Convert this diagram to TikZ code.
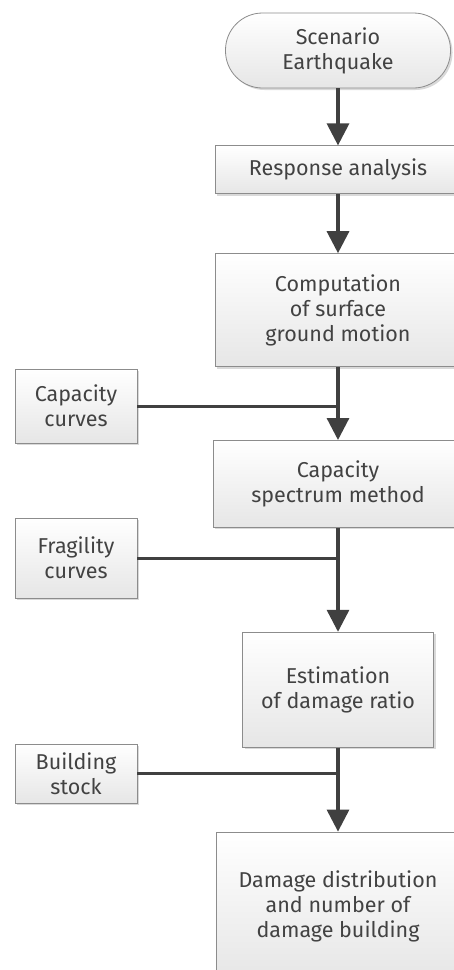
\documentclass[tikz,border=0pt]{standalone}
\usepackage{fontspec}
\setmainfont{Fira Sans}
\usetikzlibrary{arrows.meta, positioning, shadows}
\definecolor{boxline}{RGB}{140, 140, 140}
\definecolor{boxtext}{RGB}{66, 66, 66}
\definecolor{boxshade}{RGB}{230, 230, 230}
\definecolor{flowline}{RGB}{64, 64, 64}

\begin{document}
\begin{tikzpicture}[
    x=1pt, y=1pt,
    % process box style
    process/.style={
        rectangle, draw=boxline, thick,
        top color=white, bottom color=boxshade,
        drop shadow={shadow xshift=2pt, shadow yshift=-2pt, fill=black, opacity=0.15},
        text=boxtext, align=center, font=\fontsize{21.5}{25}\selectfont,
        inner sep=0pt, minimum width=246pt
    },
    % start terminal style
    terminal/.style={process, rounded corners=37pt, minimum width=225pt, minimum height=75pt},
    % side input style
    inputbox/.style={process, minimum width=122pt},
    % arrow styles
    arrow/.style={-{Triangle[width=22pt, length=22pt]}, line width=3.2pt, flowline},
    feed/.style={line width=3pt, flowline},
]
\useasboundingbox (0,0) rectangle (454,-970);

% ==================== main column ====================
\node[terminal] (quake) at (338,-50.5) {Scenario\\Earthquake};
\node[process, minimum height=48pt, below=57pt of quake] (response) {Response analysis};
\node[process, minimum height=113pt, below=59pt of response] (motion) {Computation\\of surface\\ground motion};
\node[process, minimum width=250pt, minimum height=87pt, below=73pt of motion] (spectrum) {Capacity\\spectrum method};
\node[process, minimum width=191pt, minimum height=115pt, below=104pt of spectrum] (ratio) {Estimation\\of damage ratio};
\node[process, minimum width=244pt, minimum height=148pt, below=84pt of ratio] (damage) {Damage distribution\\and number of\\damage building};

% ==================== side inputs ====================
\node[inputbox, minimum height=74pt] (capacity) at (76,-406) {Capacity\\curves};
\node[inputbox, minimum height=80pt] (fragility) at (76,-558) {Fragility\\curves};
\node[inputbox, minimum height=59pt] (stock) at (76,-773.5) {Building\\stock};

\coordinate (jcap) at (capacity.east -| spectrum.north);
\coordinate (jfrag) at (fragility.east -| ratio.north);
\coordinate (jstock) at (stock.east -| damage.north);

% ==================== flow arrows ====================
\draw[arrow] (quake) -- (response);
\draw[arrow] (response) -- (motion);
\draw[arrow] (motion) -- (spectrum);
\draw[arrow] (spectrum) -- (ratio);
\draw[arrow] (ratio) -- (damage);

% input lines
\draw[feed] (capacity.east) -- (jcap);
\draw[feed] (fragility.east) -- (jfrag);
\draw[feed] (stock.east) -- (jstock);

\end{tikzpicture}
\end{document}
